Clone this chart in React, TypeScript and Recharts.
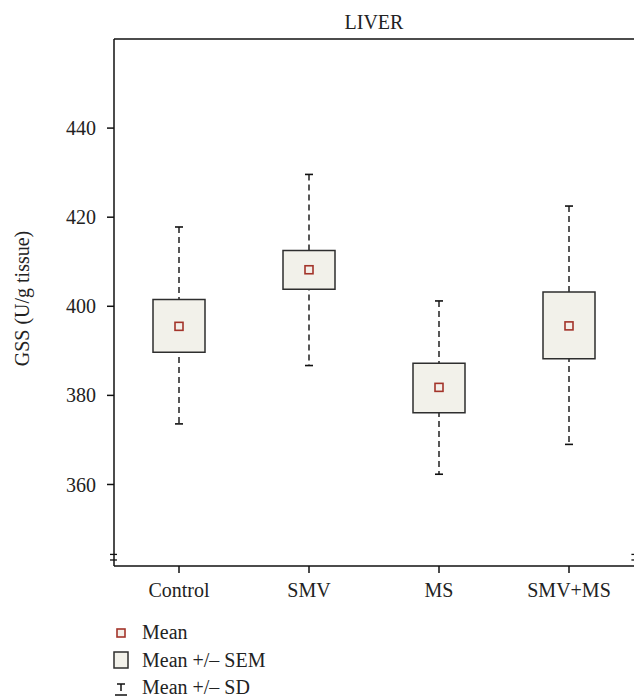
import React from 'react';
import { ComposedChart, XAxis, YAxis, Bar, Line, ReferenceLine, Legend } from 'recharts';

const groups = ['Control', 'SMV', 'MS', 'SMV+MS'];
const means = [395.5, 408.2, 381.8, 395.6];
const semLow = [389.7, 403.8, 376.1, 388.2];
const semHigh = [401.5, 412.5, 387.2, 403.2];
const sdLow = [373.6, 386.7, 362.3, 369.0];
const sdHigh = [417.8, 429.6, 401.2, 422.5];
const yTicks = [360, 380, 400, 420, 440];
const yDomain = [341.7, 460];
const title = 'LIVER';
const yLabel = 'GSS (U/g tissue)';
const legendLabels = ['Mean', 'Mean +/\u2013 SEM', 'Mean +/\u2013 SD'];
const breakLow = 343.05;
const breakHigh = 344.3;

const data = groups.map((name, i) => ({
  name,
  mean: means[i],
  sem: [semLow[i], semHigh[i]],
  sd: [sdLow[i], sdHigh[i]],
}));

const FONT = '"Liberation Serif", "Times New Roman", serif';
const BOX_FILL = '#f2f1ea';
const BOX_STROKE = '#2e2e2e';
const MEAN_STROKE = '#a3342a';
const MEAN_FILL = '#f4efe9';

const Whisker = (props: any) => {
  const { x, y, width, height } = props;
  if (x == null || y == null) return null;
  const cx = x + width / 2;
  const top = Math.min(y, y + height);
  const bot = Math.max(y, y + height);
  return (
    <g>
      <line x1={cx} x2={cx} y1={top} y2={bot} stroke="#111" strokeWidth={1.4} strokeDasharray="6 4" />
      <line x1={cx - 4} x2={cx + 4} y1={top} y2={top} stroke="#111" strokeWidth={1.6} />
      <line x1={cx - 4} x2={cx + 4} y1={bot} y2={bot} stroke="#111" strokeWidth={1.6} />
    </g>
  );
};

const MeanDot = (props: any) => {
  const { cx, cy, index } = props;
  if (cx == null || cy == null) return <g key={`m-${index}`} />;
  return (
    <rect key={`m-${index}`} x={cx - 4} y={cy - 4} width={8} height={8} fill={MEAN_FILL} stroke={MEAN_STROKE} strokeWidth={1.6} />
  );
};

const YLabel = (props: any) => {
  const vb = props.viewBox || {};
  const x = (vb.x || 0) + 22;
  const y = (vb.y || 0) + (vb.height || 0) / 2 - 4;
  return (
    <text x={x} y={y} transform={`rotate(-90, ${x}, ${y})`} textAnchor="middle" dominantBaseline="central" fontFamily={FONT} fontSize={20} fill="#222">
      {yLabel}
    </text>
  );
};

const legendIcons = [
  <svg width={24} height={20} key="i0"><rect x={8} y={6} width={8} height={8} fill={MEAN_FILL} stroke={MEAN_STROKE} strokeWidth={1.6} /></svg>,
  <svg width={24} height={20} key="i1"><rect x={5} y={2} width={14} height={16} fill={BOX_FILL} stroke={BOX_STROKE} strokeWidth={1.5} /></svg>,
  <svg width={24} height={20} key="i2">
    <line x1={8} x2={16} y1={6} y2={6} stroke="#111" strokeWidth={1.5} />
    <line x1={12} x2={12} y1={6} y2={13} stroke="#111" strokeWidth={1.5} />
    <line x1={6} x2={18} y1={17} y2={17} stroke="#111" strokeWidth={1.5} />
  </svg>,
];

const renderLegend = () => (
  <div style={{ fontFamily: FONT, fontSize: 20, color: '#222' }}>
    {legendLabels.map((lab, i) => (
      <div key={lab} style={{ display: 'flex', alignItems: 'center', height: 27.5 }}>
        <div style={{ width: 24, height: 20, display: 'flex' }}>{legendIcons[i]}</div>
        <span style={{ marginLeft: 9, lineHeight: '27.5px' }}>{lab}</span>
      </div>
    ))}
  </div>
);

export default function App() {
  return (
    <div style={{ position: 'absolute', left: 0, top: 0, width: 634, height: 697, background: '#fff' }}>
      <ComposedChart
        width={634}
        height={697}
        data={data}
        margin={{ top: 39, right: 0, bottom: 91, left: 0 }}
        style={{ fontFamily: FONT }}
      >
        <XAxis
          xAxisId="a"
          dataKey="name"
          type="category"
          orientation="bottom"
          height={40}
          tickSize={7}
          tickMargin={10}
          stroke="#111"
          strokeWidth={1.5}
          tick={{ fill: '#222', fontSize: 20, fontFamily: FONT }}
        />
        <XAxis xAxisId="b" dataKey="name" type="category" orientation="top" height={0} hide />
        <XAxis xAxisId="n" type="number" dataKey="pos" domain={[0, 4]} hide allowDataOverflow />
        <YAxis
          type="number"
          domain={yDomain}
          ticks={yTicks}
          allowDataOverflow
          width={114}
          tickSize={7}
          tickMargin={11}
          stroke="#111"
          strokeWidth={1.5}
          tick={{ fill: '#222', fontSize: 20, fontFamily: FONT }}
          label={YLabel}
        />
        <Bar xAxisId="b" dataKey="sd" barSize={10} shape={Whisker} isAnimationActive={false} />
        <Bar xAxisId="a" dataKey="sem" barSize={52} fill={BOX_FILL} stroke={BOX_STROKE} strokeWidth={1.5} isAnimationActive={false} />
        <Line xAxisId="a" dataKey="mean" stroke="none" dot={MeanDot} activeDot={false} isAnimationActive={false} />
        <ReferenceLine
          xAxisId="a"
          y={yDomain[1]}
          ifOverflow="visible"
          stroke="#111"
          strokeWidth={1.5}
          label={{ value: title, position: 'top', offset: 10, fill: '#222', fontSize: 20, fontFamily: FONT }}
        />
        <ReferenceLine xAxisId="n" ifOverflow="visible" stroke="#fff" strokeWidth={3} segment={[{ x: 0, y: breakLow + 0.25 }, { x: 0, y: breakHigh - 0.25 }]} />
        <ReferenceLine xAxisId="n" ifOverflow="visible" stroke="#111" strokeWidth={1.3} segment={[{ x: -0.031, y: breakLow }, { x: 0.023, y: breakLow }]} />
        <ReferenceLine xAxisId="n" ifOverflow="visible" stroke="#111" strokeWidth={1.3} segment={[{ x: -0.031, y: breakHigh }, { x: 0.023, y: breakHigh }]} />
        <ReferenceLine xAxisId="n" ifOverflow="visible" stroke="#111" strokeWidth={1.3} segment={[{ x: 3.98, y: breakLow }, { x: 4.05, y: breakLow }]} />
        <ReferenceLine xAxisId="n" ifOverflow="visible" stroke="#111" strokeWidth={1.3} segment={[{ x: 3.98, y: breakHigh }, { x: 4.05, y: breakHigh }]} />
        <Legend
          layout="horizontal"
          verticalAlign="middle"
          align="center"
          wrapperStyle={{ left: 109, top: 619, width: 300, height: 83 }}
          content={renderLegend}
        />
      </ComposedChart>
    </div>
  );
}
